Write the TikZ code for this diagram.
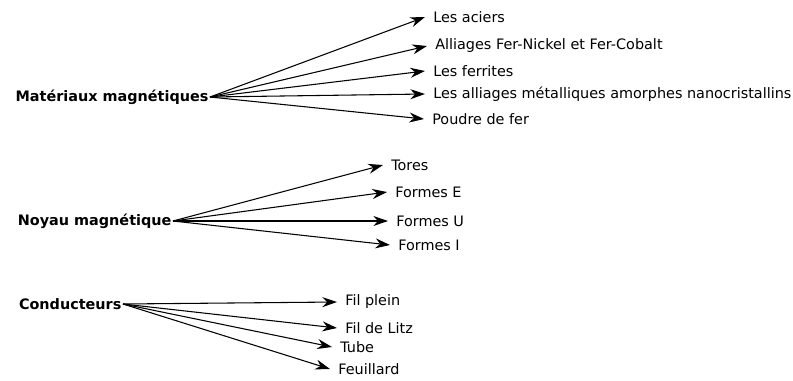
\documentclass[tikz,border=0pt]{standalone}
\usepackage{fontspec}
\setmainfont{DejaVu Sans}
\usepackage{tikz}
\usetikzlibrary{arrows.meta,positioning}

\begin{document}
\begin{tikzpicture}[x=0.75pt,y=-0.75pt,>={Stealth[length=11pt,width=7.5pt]},
    cat/.style={font=\bfseries\fontsize{10.8}{12}\selectfont,anchor=east,inner sep=1pt},
    item/.style={font=\fontsize{10.8}{12}\selectfont,anchor=west,inner xsep=6pt,inner ysep=1pt},
    fleche/.style={->,line width=0.8pt}]
  \useasboundingbox (0,0) rectangle (793,380);
  % materiaux
  \node[cat] (mat) at (210,97) {Matériaux magnétiques};
  \node[item] (acier) at (425,17) {Les aciers};
  \node[item] (alliage) at (427,46) {Alliages Fer-Nickel et Fer-Cobalt};
  \node[item] (ferrite) at (425,71) {Les ferrites};
  \node[item] (amorphe) at (425,94) {Les alliages métalliques amorphes nanocristallins};
  \node[item] (poudre) at (424,119) {Poudre de fer};
  \draw[fleche] (mat.east) -- (acier.west);
  \draw[fleche] (mat.east) -- (alliage.west);
  \draw[fleche] (mat.east) -- (ferrite.west);
  \draw[fleche] (mat.east) -- (amorphe.west);
  \draw[fleche] (mat.east) -- (poudre.west);
  % noyau
  \node[cat] (noyau) at (173,221) {Noyau magnétique};
  \node[item] (tores) at (383,165) {Tores};
  \node[item] (formeE) at (387,192) {Formes E};
  \node[item] (formeU) at (388,221) {Formes U};
  \node[item] (formeI) at (390,245) {Formes I};
  \draw[fleche] (noyau.east) -- (tores.west);
  \draw[fleche] (noyau.east) -- (formeE.west);
  \draw[fleche] (noyau.east) -- (formeU.west);
  \draw[fleche] (noyau.east) -- (formeI.west);
  % conducteurs
  \node[cat] (cond) at (123,304) {Conducteurs};
  \node[item] (plein) at (337,302) {Fil plein};
  \node[item] (litz) at (337,328) {Fil de Litz};
  \node[item] (tube) at (332,347) {Tube};
  \node[item] (feuil) at (330,369) {Feuillard};
  \draw[fleche] (cond.east) -- (plein.west);
  \draw[fleche] (cond.east) -- (litz.west);
  \draw[fleche] (cond.east) -- (tube.west);
  \draw[fleche] (cond.east) -- (feuil.west);
\end{tikzpicture}
\end{document}
